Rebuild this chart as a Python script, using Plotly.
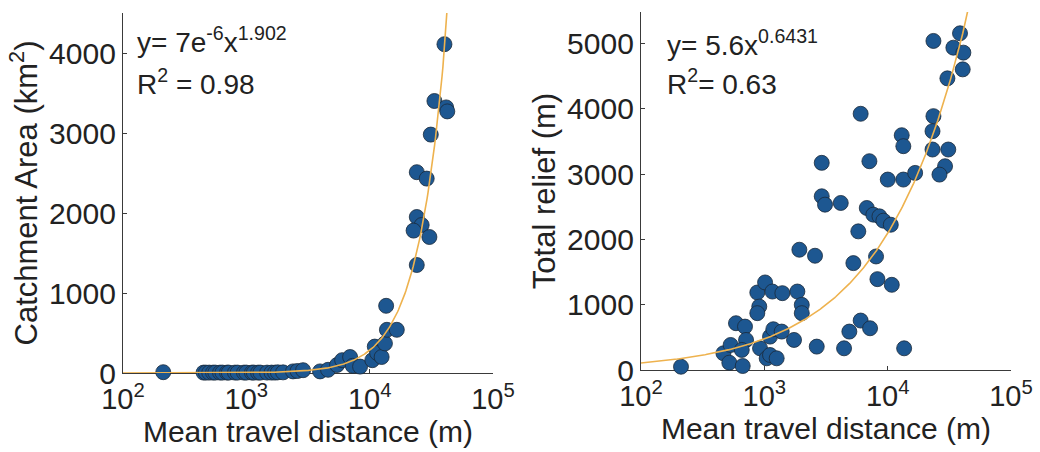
import numpy as np
import plotly.graph_objects as go

# ---- data ----
area_x = [212, 450, 470, 500, 537, 560, 612, 640, 697, 720, 809, 850, 957, 1000,
          1110, 1150, 1245, 1300, 1473, 1600, 1710, 1800, 1985, 2390, 2600, 2885,
          3960, 4600, 5440, 5980, 6940, 7300, 8360,
          10500, 11000, 11500, 12500, 13300, 13800, 16600, 13600,
          40400, 33500, 41700, 42600, 31300, 24100, 29000, 24100, 26400, 22700, 30500, 24100]
area_y = [10, 5, 5, 5, 5, 5, 5, 5, 5, 5, 5, 5, 5, 5,
          5, 5, 5, 5, 5, 5, 5, 8, 8, 20, 25, 35,
          20, 40, 100, 160, 200, 90, 80,
          160, 330, 250, 200, 370, 540, 540, 840,
          4110, 3400, 3320, 3270, 2980, 2510, 2430, 1950, 1850, 1780, 1700, 1350]

relief_x = [211, 466, 533, 520, 668, 589, 697, 711, 656, 877, 910, 877, 1014, 1162, 1400,
            923, 1045, 1112, 1259, 1112, 1183, 1383, 1741, 1853, 2012, 2012, 1923, 2576,
            2660, 2920, 2920, 3105, 4165, 4430, 4890, 5270, 5780, 6040, 6040, 7110, 6770,
            7200, 7650, 8050, 8260, 8580, 9230, 10020, 10600, 10800, 13000, 13400, 13400,
            13600, 16700, 23500, 23500, 23100, 23100, 30500, 31000, 29200, 26300, 34100,
            38600, 41100, 40600]
relief_y = [50, 256, 383, 112, 61, 716, 664, 460, 307, 1186, 971, 870, 1340, 1201, 1176,
            332, 179, 230, 179, 511, 624, 588, 460, 1201, 997, 870, 1841, 1749,
            358, 3171, 2659, 2531, 2557, 332, 588, 1636, 2122, 3922, 757, 3196, 2480,
            639, 2378, 1738, 1391, 2352, 2286, 2915, 2224, 1304, 3594, 3426, 2915,
            332, 3017, 5037, 3886, 3656, 3375, 4464, 3375, 3119, 2991, 4934,
            5154, 4858, 4602]

# power-law fits as printed on the chart
fit_area = (7e-6, 1.902)
fit_relief = (5.6, 0.6431)

x_tickvals = [100, 1000, 10000, 100000]
x_ticktext = ["10<sup>2</sup>", "10<sup>3</sup>", "10<sup>4</sup>", "10<sup>5</sup>"]
area_ticks = [0, 1000, 2000, 3000, 4000]
relief_ticks = [0, 1000, 2000, 3000, 4000, 5000]

FONT = "Arial, Liberation Sans, sans-serif"
BLUE = "#1d5791"
EDGE = "#1b2a3a"
ORANGE = "#eeb24e"
AX = "#3a3a3a"

xs = np.logspace(2, 5, 400)

fig = go.Figure()
fig.add_trace(go.Scatter(x=area_x, y=area_y, mode="markers", xaxis="x", yaxis="y",
                         cliponaxis=False,
                         marker=dict(size=15, color=BLUE, line=dict(color=EDGE, width=0.8))))
fig.add_trace(go.Scatter(x=xs, y=fit_area[0] * xs ** fit_area[1], mode="lines",
                         xaxis="x", yaxis="y", line=dict(color=ORANGE, width=1.6)))
fig.add_trace(go.Scatter(x=relief_x, y=relief_y, mode="markers", xaxis="x2", yaxis="y2",
                         cliponaxis=False,
                         marker=dict(size=15, color=BLUE, line=dict(color=EDGE, width=0.8))))
fig.add_trace(go.Scatter(x=xs, y=fit_relief[0] * xs ** fit_relief[1], mode="lines",
                         xaxis="x2", yaxis="y2", line=dict(color=ORANGE, width=1.6)))

W, H = 1040, 452

def xax(domain, anchor):
    return dict(domain=domain, anchor=anchor, type="log", range=[2, 5], tickvals=x_tickvals,
                ticktext=x_ticktext, ticks="inside", ticklen=4, tickcolor=AX,
                showline=True, linecolor=AX, linewidth=1.3, showgrid=False,
                zeroline=False, layer="below traces", automargin=False,
                tickfont=dict(size=29, color="#222"),
                title=dict(text="Mean travel distance (m)", font=dict(size=30, color="#222"),
                           standoff=2))

def yax(domain, anchor, rng, ticks, title):
    return dict(domain=domain, anchor=anchor, range=rng, tickvals=ticks, ticks="inside",
                ticklen=4, tickcolor=AX, showline=True, linecolor=AX, linewidth=1.3,
                showgrid=False, zeroline=False, layer="below traces", automargin=False,
                tickfont=dict(size=30, color="#222"),
                title=dict(text=title, font=dict(size=31, color="#222"), standoff=2))

fig.update_layout(
    width=W, height=H, margin=dict(l=0, r=0, t=0, b=0, autoexpand=False),
    paper_bgcolor="white", plot_bgcolor="white", showlegend=False,
    font=dict(family=FONT, color="#222"),
    xaxis=xax([123 / W, 493 / W], "y"),
    yaxis=yax([1 - 373 / H, 1 - 13 / H], "x", [0, 4500], area_ticks, "Catchment Area (km<sup>2</sup>)"),
    xaxis2=xax([641 / W, 1011 / W], "y2"),
    yaxis2=yax([1 - 370 / H, 1 - 12 / H], "x2", [0, 5480], relief_ticks, "Total relief (m)"),
)

ann = [
    (135, 40, "y= 7e<sup>-6</sup>x<sup>1.902</sup>"),
    (135, 82, "R<sup>2</sup> = 0.98"),
    (665, 43, "y= 5.6x<sup>0.6431</sup>"),
    (665, 82, "R<sup>2</sup>= 0.63"),
]
for x, y, t in ann:
    fig.add_annotation(x=x / W, y=1 - y / H, xref="paper", yref="paper", text=t,
                       showarrow=False, xanchor="left", yanchor="middle",
                       font=dict(size=28, color="#222"))

fig.write_html("out.html")
